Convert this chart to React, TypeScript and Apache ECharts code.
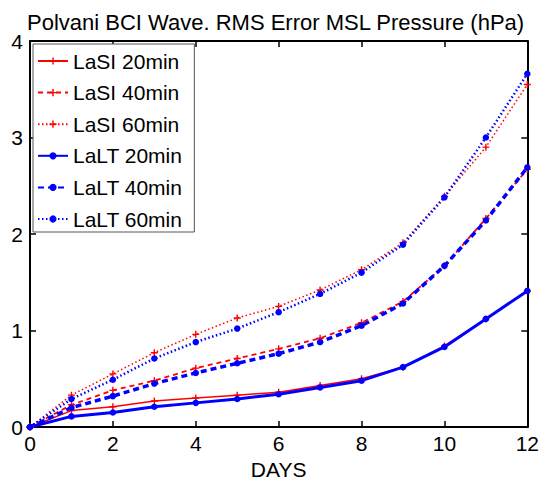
import React, { useEffect, useRef } from "react";
import * as echarts from "echarts";

const days = [0, 1, 2, 3, 4, 5, 6, 7, 8, 9, 10, 11, 12];
const lasi20 = [0, 0.17, 0.21, 0.27, 0.3, 0.33, 0.36, 0.43, 0.5, 0.62, 0.84, 1.12, 1.41];
const lasi40 = [0, 0.23, 0.38, 0.48, 0.61, 0.71, 0.81, 0.92, 1.08, 1.3, 1.67, 2.16, 2.67];
const lasi60 = [0, 0.33, 0.55, 0.77, 0.96, 1.13, 1.25, 1.42, 1.63, 1.91, 2.39, 2.9, 3.55];
const lalt20 = [0, 0.11, 0.15, 0.21, 0.25, 0.29, 0.34, 0.41, 0.48, 0.62, 0.83, 1.12, 1.41];
const lalt40 = [0, 0.2, 0.32, 0.45, 0.56, 0.66, 0.76, 0.88, 1.05, 1.28, 1.67, 2.14, 2.69];
const lalt60 = [0, 0.29, 0.49, 0.71, 0.88, 1.02, 1.19, 1.38, 1.6, 1.89, 2.38, 3.0, 3.66];
const seriesNames = ["LaSI 20min", "LaSI 40min", "LaSI 60min", "LaLT 20min", "LaLT 40min", "LaLT 60min"];

const FONT = "'Liberation Sans', Arial, sans-serif";
const FS = 21;
const PLUS = "path://M4,0H6V4H10V6H6V10H4V6H0V4H4Z";

export default function App() {
  const ref = useRef<HTMLDivElement>(null);
  useEffect(() => {
    if (!ref.current) return;
    const chart = echarts.init(ref.current, undefined, { renderer: "svg" });
    const pair = (arr: number[]) => days.map((d, i) => [d, arr[i]]);
    const mk = (name: string, data: number[], color: string, type: any, width: number, blue: boolean) => ({
      name,
      type: "line",
      data: pair(data),
      symbol: blue ? "circle" : PLUS,
      symbolSize: blue ? 6.5 : 7,
      showSymbol: true,
      lineStyle: { color, width, type },
      itemStyle: { color },
      emphasis: { disabled: true },
    });
    const axisLine = { show: true, onZero: false, lineStyle: { color: "#000", width: 2 } };
    const axisTick = { show: true, inside: true, length: 6, lineStyle: { color: "#000", width: 1.5 } };
    chart.setOption({
      animation: false,
      backgroundColor: "#fff",
      textStyle: { fontFamily: FONT },
      title: {
        text: "Polvani BCI Wave. RMS Error MSL Pressure (hPa)",
        left: 22,
        top: 6,
        textStyle: { fontSize: 22, fontWeight: "normal", color: "#000", fontFamily: FONT },
      },
      grid: { left: 30, right: 14, top: 41, bottom: 59, containLabel: false },
      legend: {
        orient: "vertical",
        left: 33,
        top: 44,
        data: seriesNames,
        itemWidth: 30,
        itemHeight: 9,
        itemGap: 9.6,
        padding: [6, 12, 2, 4],
        backgroundColor: "#fff",
        borderColor: "#555",
        borderWidth: 1,
        borderRadius: 0,
        textStyle: { fontSize: FS, color: "#000", fontFamily: FONT, lineHeight: 22 },
      },
      xAxis: [
        {
          type: "value",
          min: 0,
          max: 12,
          interval: 2,
          position: "bottom",
          name: "DAYS",
          nameLocation: "middle",
          nameGap: 32,
          nameTextStyle: { fontSize: FS, color: "#000", fontFamily: FONT },
          axisLine,
          axisTick,
          axisLabel: { fontSize: FS, color: "#000", margin: 6, fontFamily: FONT },
          splitLine: { show: false },
        },
        {
          type: "value",
          min: 0,
          max: 12,
          interval: 2,
          position: "top",
          axisLine,
          axisTick,
          axisLabel: { show: false },
          splitLine: { show: false },
        },
      ],
      yAxis: [
        {
          type: "value",
          min: 0,
          max: 4,
          interval: 1,
          position: "left",
          axisLine,
          axisTick,
          axisLabel: { fontSize: FS, color: "#000", margin: 7, fontFamily: FONT, padding: [6, 0, 0, 0] },
          splitLine: { show: false },
        },
        {
          type: "value",
          min: 0,
          max: 4,
          interval: 1,
          position: "right",
          axisLine,
          axisTick,
          axisLabel: { show: false },
          splitLine: { show: false },
        },
      ],
      series: [
        mk(seriesNames[0], lasi20, "#ff0000", "solid", 1.5, false),
        mk(seriesNames[1], lasi40, "#ff0000", [5, 4], 1.8, false),
        mk(seriesNames[2], lasi60, "#ff0000", [1.5, 2.5], 1.5, false),
        mk(seriesNames[3], lalt20, "#0000ff", "solid", 3, true),
        mk(seriesNames[4], lalt40, "#0000ff", [6, 4], 3.5, true),
        mk(seriesNames[5], lalt60, "#0000ff", [1.5, 2.5], 2.5, true),
      ],
    });
    return () => chart.dispose();
  }, []);
  return <div ref={ref} style={{ width: 542, height: 486, position: "absolute", left: 0, top: 0 }} />;
}
